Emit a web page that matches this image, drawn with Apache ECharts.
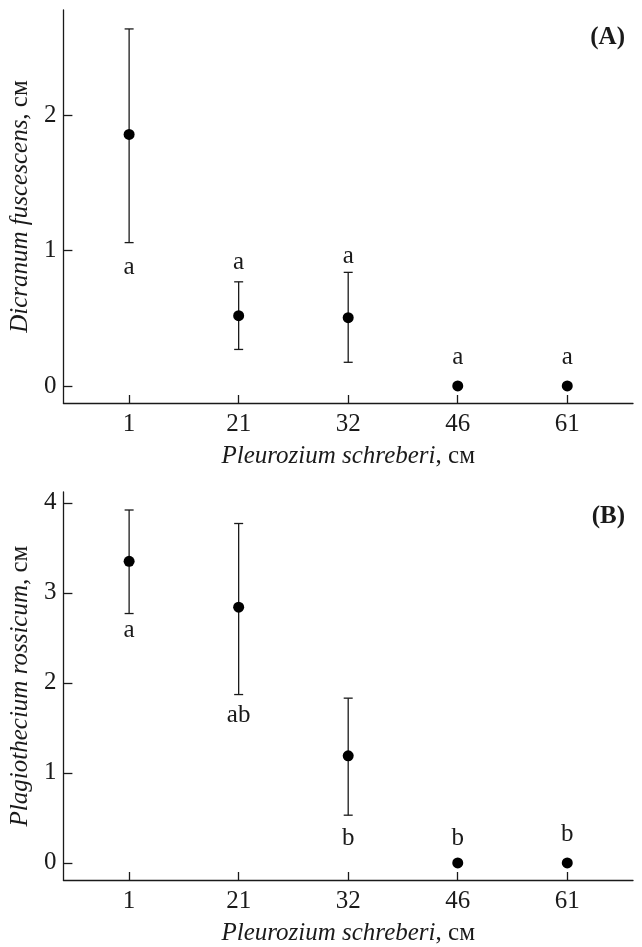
<!DOCTYPE html>
<html lang="ru">
<head>
    <meta charset="UTF-8">
    <title>Dicranum / Plagiothecium</title>
    <script type="text/javascript" src="https://cdn.jsdelivr.net/npm/echarts@6/dist/echarts.min.js"></script>
    <style type="text/css">
        html, body { margin: 0; padding: 0; background: #fff; }
        #chart { width: 642px; height: 947px; }
    </style>
</head>
<body>
    <div id="chart"></div>
</body>

<script type="text/javascript">
    // толщина слоя Pleurozium schreberi, см
    var categories = ['1', '21', '32', '46', '61'];

    // (A) Dicranum fuscescens
    var meanA = [1.86, 0.52, 0.505, 0, 0];
    var lowA = [1.06, 0.27, 0.175, null, null];
    var highA = [2.64, 0.77, 0.84, null, null];
    var lettersA = ['a', 'a', 'a', 'a', 'a'];
    var letterPosA = [0.88, 0.91, 0.96, 0.21, 0.21];
    var ticksA = [0, 1, 2];

    // (B) Plagiothecium rossicum
    var meanB = [3.35, 2.84, 1.19, 0, 0];
    var lowB = [2.77, 1.87, 0.53, null, null];
    var highB = [3.92, 3.77, 1.83, null, null];
    var lettersB = ['a', 'ab', 'b', 'b', 'b'];
    var letterPosB = [2.58, 1.64, 0.27, 0.27, 0.32];
    var ticksB = [0, 1, 2, 3, 4];

    var ink = '#1a1a1a';
    var serif = 'Liberation Serif';
    var catIdx = categories.map(function (c, i) { return i; });

    function pairs(ys) {
        return ys.map(function (y, i) { return [i, y]; });
    }
    function errRows(lo, hi) {
        var rows = [];
        for (var i = 0; i < lo.length; i++) {
            if (lo[i] != null) rows.push([i, lo[i], hi[i]]);
        }
        return rows;
    }
    function letterRows(pos, txt) {
        return pos.map(function (y, i) { return [i, y, txt[i]]; });
    }

    function renderErr(params, api) {
        var a = api.coord([api.value(0), api.value(2)]);
        var b = api.coord([api.value(0), api.value(1)]);
        var w = 4.5;
        var st = { stroke: ink, lineWidth: 1.3 };
        return {
            type: 'group',
            children: [
                { type: 'line', shape: { x1: a[0], y1: a[1], x2: b[0], y2: b[1] }, style: st },
                { type: 'line', shape: { x1: a[0] - w, y1: a[1], x2: a[0] + w, y2: a[1] }, style: st },
                { type: 'line', shape: { x1: b[0] - w, y1: b[1], x2: b[0] + w, y2: b[1] }, style: st }
            ]
        };
    }
    function renderLetter(params, api) {
        var p = api.coord([api.value(0), api.value(1)]);
        return {
            type: 'text', x: p[0], y: p[1],
            style: {
                text: api.value(2), fill: ink, align: 'center', verticalAlign: 'middle',
                fontFamily: serif, fontSize: 25
            }
        };
    }

    function xAxisFor(gi) {
        return {
            type: 'value', gridIndex: gi, min: -0.6, max: 4.6,
            splitLine: { show: false },
            axisLine: { show: true, onZero: false, lineStyle: { color: ink, width: 1.3 } },
            axisTick: { show: true, inside: true, length: 8, customValues: catIdx, lineStyle: { color: ink, width: 1.3 } },
            axisLabel: {
                customValues: catIdx, margin: 9, color: ink, fontFamily: serif, fontSize: 25,
                formatter: function (v) { return categories[Math.round(v)]; }
            },
            name: '{i|Pleurozium schreberi}{n|, см}',
            nameLocation: 'middle', nameGap: 41,
            nameTextStyle: {
                rich: {
                    i: { fontFamily: serif, fontStyle: 'italic', fontSize: 25, color: ink },
                    n: { fontFamily: serif, fontSize: 25, color: ink }
                }
            }
        };
    }
    function yAxisFor(gi, min, max, ticks, species) {
        return {
            type: 'value', gridIndex: gi, min: min, max: max,
            splitLine: { show: false },
            axisLine: { show: true, onZero: false, lineStyle: { color: ink, width: 1.3 } },
            axisTick: { show: true, inside: true, length: 9, customValues: ticks, lineStyle: { color: ink, width: 1.3 } },
            axisLabel: { customValues: ticks, margin: 7, color: ink, fontFamily: serif, fontSize: 25 },
            name: '{i|' + species + '}{n|, см}',
            nameLocation: 'middle', nameGap: 24, nameRotate: 90,
            nameTextStyle: {
                rich: {
                    i: { fontFamily: serif, fontStyle: 'italic', fontSize: 25, color: ink },
                    n: { fontFamily: serif, fontSize: 25, color: ink }
                }
            }
        };
    }

    var chart = echarts.init(document.getElementById('chart'), null, { renderer: 'canvas' });

    var option = {
        backgroundColor: '#fff',
        animation: false,
        title: [
            { text: '(A)', right: 12, top: 20, textStyle: { fontFamily: serif, fontWeight: 'bold', fontSize: 25, color: ink } },
            { text: '(B)', right: 12, top: 499, textStyle: { fontFamily: serif, fontWeight: 'bold', fontSize: 25, color: ink } }
        ],
        grid: [
            { left: 62, right: 9, top: 10, height: 393 },
            { left: 62, right: 9, top: 492, height: 392 }
        ],
        xAxis: [xAxisFor(0), xAxisFor(1)],
        yAxis: [
            yAxisFor(0, -0.126, 2.78, ticksA, 'Dicranum fuscescens'),
            yAxisFor(1, -0.19, 4.12, ticksB, 'Plagiothecium rossicum')
        ],
        series: [
            { type: 'custom', xAxisIndex: 0, yAxisIndex: 0, renderItem: renderErr, data: errRows(lowA, highA), z: 2 },
            { type: 'scatter', xAxisIndex: 0, yAxisIndex: 0, data: pairs(meanA), symbolSize: 11, itemStyle: { color: '#000', opacity: 1 }, z: 3 },
            { type: 'custom', xAxisIndex: 0, yAxisIndex: 0, renderItem: renderLetter, data: letterRows(letterPosA, lettersA), z: 3 },
            { type: 'custom', xAxisIndex: 1, yAxisIndex: 1, renderItem: renderErr, data: errRows(lowB, highB), z: 2 },
            { type: 'scatter', xAxisIndex: 1, yAxisIndex: 1, data: pairs(meanB), symbolSize: 11, itemStyle: { color: '#000', opacity: 1 }, z: 3 },
            { type: 'custom', xAxisIndex: 1, yAxisIndex: 1, renderItem: renderLetter, data: letterRows(letterPosB, lettersB), z: 3 }
        ]
    };
    chart.setOption(option);
</script>
</html>
